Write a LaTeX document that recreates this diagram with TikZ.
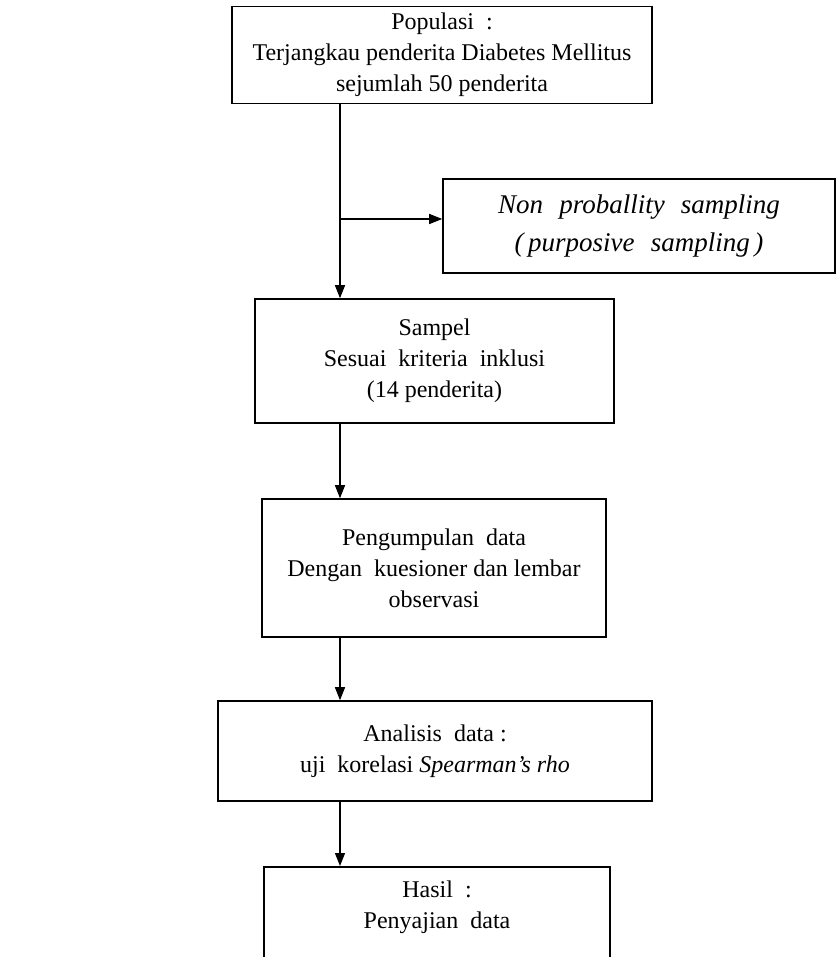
\documentclass[tikz,border=0pt]{standalone}
\usepackage{fontspec}
\setmainfont{Liberation Serif}
\usetikzlibrary{arrows.meta}
\begin{document}
\begin{tikzpicture}[x=1pt,y=-1pt,
  box/.style={draw,line width=1.6pt,rectangle,inner sep=0pt,align=center,
    font=\fontsize{24}{31}\selectfont},
  arr/.style={line width=1.3pt,-{Triangle[length=13pt,width=10pt]}}]
\useasboundingbox (0,0) rectangle (836,957);
\node[box,minimum width=420pt,minimum height=97pt] (a) at (442,55)
  {Populasi~ :\\Terjangkau penderita Diabetes Mellitus\\sejumlah 50 penderita};
\node[box,minimum width=392pt,minimum height=94pt,
  font=\fontsize{27}{38}\selectfont\itshape] (b) at (639,226)
  {Non\hspace{0.6em}proballity\hspace{0.6em}sampling\\(\,purposive\hspace{0.6em}sampling\,)};
\node[box,minimum width=359pt,minimum height=124pt] (c) at (434.5,361)
  {Sampel\\Sesuai~ kriteria~ inklusi\\(14 penderita)};
\node[box,minimum width=344pt,minimum height=138pt] (d) at (434,568)
  {Pengumpulan~ data\\Dengan~ kuesioner dan lembar\\observasi};
\node[box,minimum width=434pt,minimum height=100pt] (e) at (435,751)
  {Analisis~ data :\\uji~ korelasi \textit{Spearman’s rho}};
\node[box,minimum width=346pt,minimum height=150pt,anchor=north] (f) at (437,866)
  {Hasil~ :\\Penyajian~ data\\[44pt]};
\coordinate (br) at (340,219);
\draw[arr] (br |- a.south) -- (br |- c.north);
\draw[arr] (br) -- (br -| b.west);
\draw[arr] (br |- c.south) -- (br |- d.north);
\draw[arr] (br |- d.south) -- (br |- e.north);
\draw[arr] (br |- e.south) -- (br |- f.north);
\end{tikzpicture}
\end{document}
